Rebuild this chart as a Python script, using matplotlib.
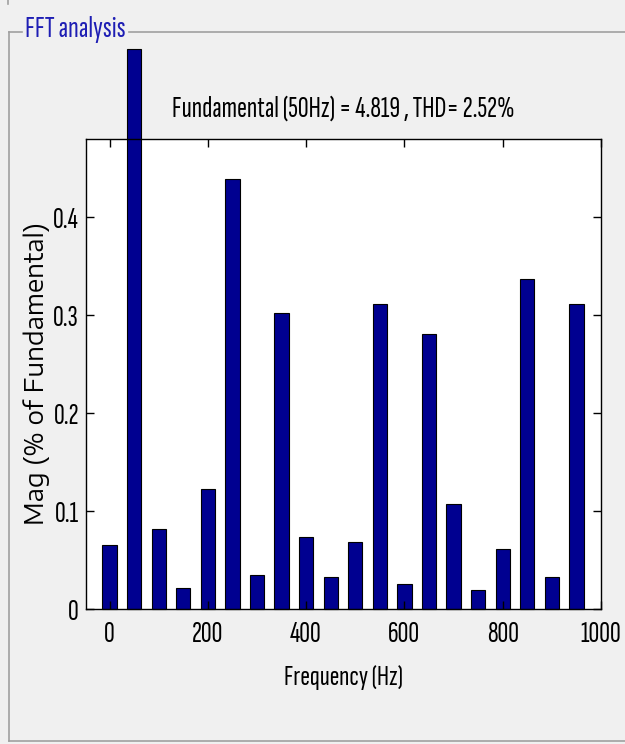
import matplotlib
matplotlib.use('Agg')
import matplotlib.pyplot as plt
from matplotlib.lines import Line2D

NARROW = ['Sofia Sans Extra Condensed', 'DejaVu Sans']
WIDE = ['Encode Sans Expanded', 'DejaVu Sans']
plt.rcParams['font.family'] = NARROW

# 谐波频率 (Hz) 与幅值 (% of Fundamental)，基波柱超出坐标轴按图中可见高度读取
freq = [0, 50, 100, 150, 200, 250, 300, 350, 400, 450,
        500, 550, 600, 650, 700, 750, 800, 850, 900, 950]
mag = [0.065, 0.572, 0.082, 0.021, 0.123, 0.439, 0.035, 0.302, 0.074, 0.033,
       0.068, 0.311, 0.026, 0.281, 0.107, 0.019, 0.061, 0.337, 0.033, 0.311]
x_ticks = [0, 200, 400, 600, 800, 1000]
y_ticks = [0, 0.1, 0.2, 0.3, 0.4]
y_tick_labels = ['0', '0.1', '0.2', '0.3', '0.4']

W, H = 625, 744
BG = '#f0f0f0'

def fx(px):
    return px / W

def fy(py):
    return 1 - py / H

fig = plt.figure(figsize=(W / 100, H / 100), dpi=100, facecolor=BG)

# groupbox 边框
frame_kw = dict(color='#a0a0a0', lw=1.2, transform=fig.transFigure)
fig.add_artist(Line2D([fx(9), fx(9)], [fy(32), fy(741)], **frame_kw))
fig.add_artist(Line2D([fx(9), fx(625)], [fy(741), fy(741)], **frame_kw))
fig.add_artist(Line2D([fx(9), fx(22)], [fy(32), fy(32)], **frame_kw))
fig.add_artist(Line2D([fx(129), fx(625)], [fy(32), fy(32)], **frame_kw))
fig.add_artist(Line2D([fx(8), fx(8)], [fy(0), fy(4)], **frame_kw))
fig.text(fx(25), fy(37), 'FFT analysis', color='#1e1eb4', fontsize=22,
         ha='left', va='baseline')

ax = fig.add_axes([fx(86), fy(609), fx(601) - fx(86), fy(139) - fy(609)])
ax.set_facecolor('white')
bars = ax.bar(freq, mag, width=29, color='#000090', edgecolor='black', linewidth=0.8)
for b in bars:
    b.set_clip_on(False)

ax.set_xlim(-48, 1000)
ax.set_ylim(0, 0.48)
ax.set_xticks(x_ticks)
ax.set_yticks(y_ticks)
ax.set_yticklabels(y_tick_labels)
ax.tick_params(direction='in', top=True, right=True, length=6, width=1,
               labelsize=21.5, pad=5)
ax.tick_params(axis='x', pad=9)
for s in ax.spines.values():
    s.set_linewidth(1)

ax.set_xlabel('Frequency (Hz)', fontsize=21, labelpad=12)
ax.set_ylabel('Mag (% of Fundamental)', fontsize=17.5, family=WIDE, labelpad=2)
fig.text(fx(343), fy(117), 'Fundamental (50Hz) = 4.819 , THD= 2.52%',
         fontsize=21.5, ha='center', va='baseline')

fig.savefig('out.png', dpi=100, facecolor=BG)
